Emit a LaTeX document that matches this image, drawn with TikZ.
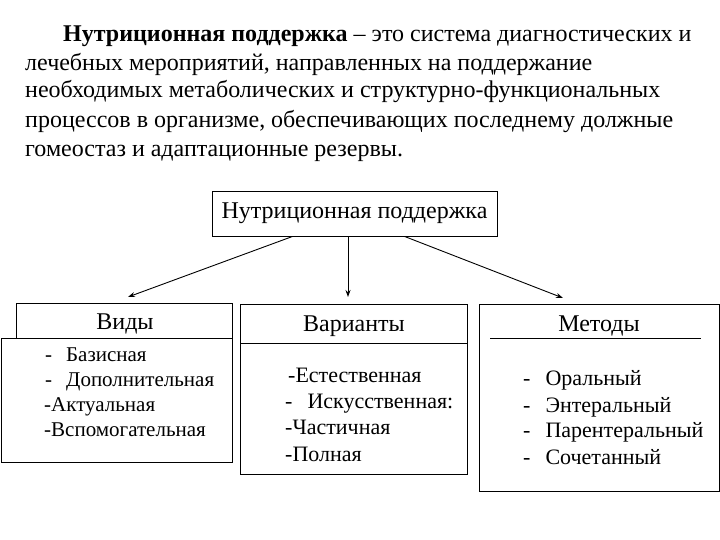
\documentclass[tikz,border=0pt]{standalone}
\usepackage{fontspec}
\setmainfont{Liberation Serif}
\usetikzlibrary{calc,arrows.meta}
\begin{document}
\begin{tikzpicture}[x=1pt,y=1pt,
  box/.style={draw,line width=0.9pt,inner sep=0pt},
  para/.style={anchor=base west,inner sep=0pt,font=\fontsize{24}{28}\selectfont},
  title/.style={anchor=base,inner sep=0pt,font=\fontsize{24}{28}\selectfont},
  item/.style={anchor=base west,inner sep=0pt,font=\fontsize{21}{25}\selectfont},
  itemb/.style={anchor=base west,inner sep=0pt,font=\fontsize{22}{26}\selectfont},
  arr/.style={line width=0.9pt,-{Stealth[length=7pt,width=5pt]}}]
\useasboundingbox (0,0) rectangle (720,540);
% paragraph
\node[para] (p1) at (63,498) {\textbf{Нутриционная поддержка} – это система диагностических и};
\node[para] (p2) at (25,469) {лечебных мероприятий, направленных на поддержание};
\node[para] (p3) at (25,442) {необходимых метаболических и структурно-функциональных};
\node[para] (p4) at (25,412) {процессов в организме, обеспечивающих последнему должные};
\node[para] (p5) at (25,383) {гомеостаз и адаптационные резервы.};
% top box
\node[box,minimum width=285,minimum height=45,font=\fontsize{24}{28}\selectfont] (top) at (354.5,326.5) {Нутриционная поддержка};
% Виды
\node[box,minimum width=216,minimum height=35] (vt) at (124,219.5) {};
\node[box,fill=white,minimum width=231,minimum height=124] (vl) at (116.5,140) {};
\node[title] (vtt) at (125,210) {Виды};
\node[item] (v1) at (45,178) {-\hspace{14pt}Базисная};
\node[item] (v2) at (45,153) {-\hspace{14pt}Дополнительная};
\node[item] (v3) at (44,128) {-Актуальная};
\node[item] (v4) at (44,103) {-Вспомогательная};
% Варианты
\node[box,minimum width=227,minimum height=39] (wt) at (353.5,216.5) {};
\node[box,minimum width=227,minimum height=131] (wl) at (353.5,131.5) {};
\node[title] (wtt) at (354,208) {Варианты};
\node[itemb] (w1) at (288,157) {-Естественная};
\node[itemb] (w2) at (285,131) {-\hspace{15pt}Искусственная:};
\node[itemb] (w3) at (285,105) {-Частичная};
\node[itemb] (w4) at (285,78) {-Полная};
% Методы
\node[box,minimum width=240,minimum height=187] (mb) at (599,142.5) {};
\node[title] (mtt) at (599,208) {Методы};
\coordinate (ml1) at (490,202);
\coordinate (ml2) at (701,202);
\draw[line width=0.9pt] (ml1) -- (ml2);
\node[itemb] (m1) at (523,154) {-\hspace{15pt}Оральный};
\node[itemb] (m2) at (523,127) {-\hspace{15pt}Энтеральный};
\node[itemb] (m3) at (523,102) {-\hspace{15pt}Парентеральный};
\node[itemb] (m4) at (523,75) {-\hspace{15pt}Сочетанный};
% arrows
\coordinate (a1) at ($(top.south west)+(81,0)$);
\coordinate (a3) at ($(top.south west)+(193,0)$);
\coordinate (t1) at (128,243);
\coordinate (t2) at (348,243);
\coordinate (t3) at (563,242);
\draw[arr] (a1) -- (t1);
\draw[arr] (top.south -| t2) -- (t2);
\draw[arr] (a3) -- (t3);
\end{tikzpicture}
\end{document}
